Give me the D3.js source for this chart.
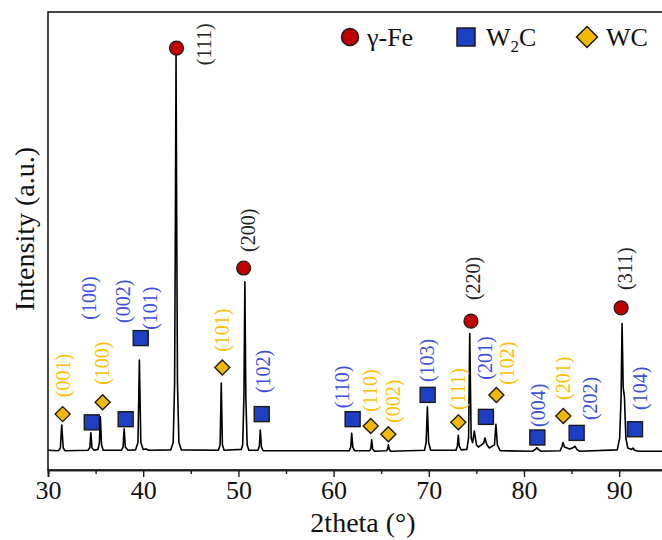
<!DOCTYPE html>
<html lang="en">
<head>
  <meta charset="UTF-8">
  <script src="https://d3js.org/d3.v7.min.js"></script>
  <title>XRD pattern</title>
  <style>
    body { margin: 0; background: #fff; }
    svg text { font-family: "Liberation Serif", "DejaVu Serif", "Times New Roman", Times, serif; }
  </style>
</head>
<body>
  <div id="chart"></div>
  <script>
    const serif = '"Liberation Serif", "DejaVu Serif", "Times New Roman", Times, serif';

    // trace: [2theta, intensity]
    const trace = [
      [30.0, 0.3], [31.1, 0.2], [31.3, 0.8], [31.44, 5.8], [31.6, 0.8], [31.8, 0.2],
      [34.2, 0.3], [34.4, 0.9], [34.5, 4.1], [34.62, 0.8], [34.85, 0.3],
      [35.25, 0.5], [35.4, 2], [35.5, 7.6], [35.62, 1.5], [35.8, 0.3],
      [37.7, 0.3], [37.88, 1], [38.0, 5], [38.12, 1], [38.4, 0.3],
      [39.2, 0.4], [39.45, 2], [39.6, 20], [39.75, 2], [40.0, 0.5], [40.3, 0.6], [40.6, 0.3],
      [42.9, 0.4], [43.15, 2], [43.3, 15], [43.38, 50], [43.45, 86.6], [43.52, 50], [43.6, 15], [43.75, 2], [44.0, 0.4],
      [47.9, 0.3], [48.08, 1.5], [48.2, 15], [48.32, 1.5], [48.5, 0.3],
      [50.3, 0.5], [50.45, 1.5], [50.58, 12], [50.68, 37.1], [50.78, 12], [50.92, 1.5], [51.1, 0.3],
      [52.05, 0.3], [52.2, 1.2], [52.3, 4.7], [52.42, 1], [52.6, 0.2],
      [61.65, 0.2], [61.8, 1], [61.9, 4], [62.02, 1], [62.2, 0.2],
      [63.8, 0.2], [63.92, 0.8], [64.0, 2.6], [64.1, 0.6], [64.3, 0.1],
      [65.55, 0.2], [65.68, 0.6], [65.75, 1.5], [65.85, 0.5], [66.0, 0.1],
      [69.55, 0.3], [69.72, 2], [69.85, 9.8], [69.98, 2], [70.2, 0.3],
      [72.85, 0.3], [73.0, 1.2], [73.1, 3.6], [73.2, 1.2], [73.4, 0.4],
      [74.0, 0.5], [74.18, 3], [74.3, 25.8], [74.45, 3], [74.6, 2], [74.78, 4.5], [75.0, 1.5], [75.2, 1],
      [75.75, 1.8], [75.9, 3], [76.1, 1.5], [76.35, 0.8], [76.9, 1.5], [77.05, 6], [77.2, 1.5], [77.5, 0.2],
      [80.9, 0.1], [81.2, 0.5], [81.35, 0.9], [81.5, 0.5], [81.8, 0.1],
      [83.8, 0.2], [84.0, 1.2], [84.1, 2], [84.25, 1], [84.8, 0.6], [85.2, 0.9], [85.35, 1.2], [85.55, 0.5], [85.8, 0.1],
      [89.8, 0.4], [90.05, 3], [90.2, 12], [90.3, 28], [90.42, 14], [90.55, 12], [90.7, 3], [90.9, 0.8],
      [91.3, 0.5], [91.45, 0.8], [91.6, 0.3], [92.0, 0.1], [95.0, 0.1]
    ];

    // markers: [hkl, 2theta, level]
    const feMarks = [['(111)', 43.5, 88.1], ['(200)', 50.55, 40.1], ['(220)', 74.43, 28.5], ['(311)', 90.2, 31.4]];
    const w2cMarks = [['(100)', 34.6, 6.4], ['(002)', 38.16, 7.1], ['(101)', 39.74, 24.8], ['(102)', 52.45, 8.2],
      ['(110)', 62.0, 7.1], ['(103)', 69.88, 12.4], ['(201)', 76.0, 7.6], ['(004)', 81.4, 3.1],
      ['(202)', 85.53, 4.1], ['(104)', 91.66, 4.9]];
    const wcMarks = [['(001)', 31.54, 8.2], ['(100)', 35.74, 10.8], ['(101)', 48.31, 18.4], ['(110)', 63.9, 5.6],
      ['(002)', 65.75, 3.8], ['(111)', 73.1, 6.4], ['(102)', 77.1, 12.4], ['(201)', 84.13, 7.8]];

    // label anchors (foot of each rotated label): [2theta, level]
    const feLabels = [[46.4, 84.4], [51.0, 43.6], [74.67, 33.1], [90.64, 35.3]];
    const w2cLabels = [[34.34, 28.8], [37.91, 28.1], [40.71, 26.6], [52.62, 12.8], [60.85, 9.5],
      [69.78, 15.2], [75.9, 15.7], [81.5, 5.4], [86.93, 6.9], [92.18, 9.1]];
    const wcLabels = [[31.61, 11.9], [35.64, 14.6], [48.25, 21.8], [63.82, 8.7], [66.24, 6.3],
      [73.1, 9.1], [78.18, 14.6], [84.13, 11.3]];

    const xTicks = [30, 40, 50, 60, 70, 80, 90];
    const xMinor = [35, 45, 55, 65, 75, 85, 95];

    const W = 662, H = 540;
    const svg = d3.select('#chart').append('svg')
      .attr('width', W).attr('height', H)
      .attr('font-family', serif);

    const x = d3.scaleLinear().domain([30, 95]).range([48, 666.8]);
    const y = d3.scaleLinear().domain([-4, 96]).range([470, 12]);

    const ink = '#1a1a1a';

    // frame
    svg.append('rect')
      .attr('x', x(30)).attr('y', y(96))
      .attr('width', x(95) - x(30)).attr('height', y(-4) - y(96))
      .attr('fill', 'none').attr('stroke', ink).attr('stroke-width', 1.6);

    // x axis
    const axisG = svg.append('g').attr('transform', `translate(0,${y(-4)})`);
    axisG.call(d3.axisBottom(x).tickValues(xTicks).tickSize(7).tickFormat(d3.format('d')));
    axisG.append('g').call(d3.axisBottom(x).tickValues(xMinor).tickSize(4).tickFormat(''));
    axisG.attr('font-family', serif);
    axisG.selectAll('.domain').attr('stroke', ink).attr('stroke-width', 1.6);
    axisG.selectAll('.tick line').attr('stroke', ink).attr('stroke-width', 1.4);
    axisG.selectAll('.tick text')
      .attr('font-size', 26).attr('fill', '#111').attr('y', 11)
      .style('font-family', serif);

    svg.append('text')
      .attr('x', 363).attr('y', 532)
      .attr('text-anchor', 'middle')
      .attr('font-size', 28).attr('fill', '#111')
      .text('2theta (°)');

    svg.append('text')
      .attr('transform', 'translate(34,229) rotate(-90)')
      .attr('text-anchor', 'middle')
      .attr('font-size', 28).attr('fill', '#111')
      .text('Intensity (a.u.)');

    // pattern
    const line = d3.line().x(d => x(d[0])).y(d => y(d[1]));
    svg.append('path')
      .datum(trace)
      .attr('d', line)
      .attr('fill', 'none')
      .attr('stroke', '#000')
      .attr('stroke-width', 1.6)
      .attr('stroke-linejoin', 'round');

    const feFill = '#c00000', w2cFill = '#1c3fc4', wcFill = '#f5b800';
    const w2cText = '#3c4fe0', wcText = '#ffbe00';

    // rotated hkl labels
    const drawLabels = (marks, anchors, color) => {
      svg.append('g').selectAll('text')
        .data(marks)
        .enter()
        .append('text')
        .attr('transform', (d, i) => `translate(${x(anchors[i][0])},${y(anchors[i][1])}) rotate(-90)`)
        .attr('dominant-baseline', 'central')
        .attr('font-size', 20)
        .attr('fill', color)
        .text(d => d[0]);
    };
    drawLabels(feMarks, feLabels, '#222');
    drawLabels(w2cMarks, w2cLabels, w2cText);
    drawLabels(wcMarks, wcLabels, wcText);

    // markers
    svg.append('g').selectAll('circle')
      .data(feMarks).enter().append('circle')
      .attr('cx', d => x(d[1])).attr('cy', d => y(d[2])).attr('r', 7)
      .attr('fill', feFill).attr('stroke', ink).attr('stroke-width', 1.2);

    svg.append('g').selectAll('rect')
      .data(w2cMarks).enter().append('rect')
      .attr('x', d => x(d[1]) - 7.5).attr('y', d => y(d[2]) - 7.5)
      .attr('width', 15).attr('height', 15)
      .attr('fill', w2cFill).attr('stroke', ink).attr('stroke-width', 1.4);

    const diamond = s => `M0,${-s}L${s},0L0,${s}L${-s},0Z`;
    svg.append('g').selectAll('path')
      .data(wcMarks).enter().append('path')
      .attr('transform', d => `translate(${x(d[1])},${y(d[2])})`)
      .attr('d', diamond(7.5))
      .attr('fill', wcFill).attr('stroke', ink).attr('stroke-width', 1.4);

    // legend
    const lg = svg.append('g').attr('font-size', 26).attr('fill', '#111');
    lg.append('circle').attr('cx', 350).attr('cy', 37).attr('r', 8.5)
      .attr('fill', feFill).attr('stroke', ink).attr('stroke-width', 1.5);
    lg.append('text').attr('x', 367).attr('y', 46).text('γ-Fe');
    lg.append('rect').attr('x', 457).attr('y', 28).attr('width', 18).attr('height', 18)
      .attr('fill', w2cFill).attr('stroke', ink).attr('stroke-width', 1.5);
    const w2cT = lg.append('text').attr('x', 486).attr('y', 46);
    w2cT.append('tspan').text('W');
    w2cT.append('tspan').attr('font-size', 17).attr('dy', 6).text('2');
    w2cT.append('tspan').attr('dy', -6).text('C');
    lg.append('path').attr('transform', 'translate(587,37)').attr('d', diamond(10.5))
      .attr('fill', wcFill).attr('stroke', ink).attr('stroke-width', 1.5);
    lg.append('text').attr('x', 606).attr('y', 46).text('WC');
  </script>
</body>
</html>
